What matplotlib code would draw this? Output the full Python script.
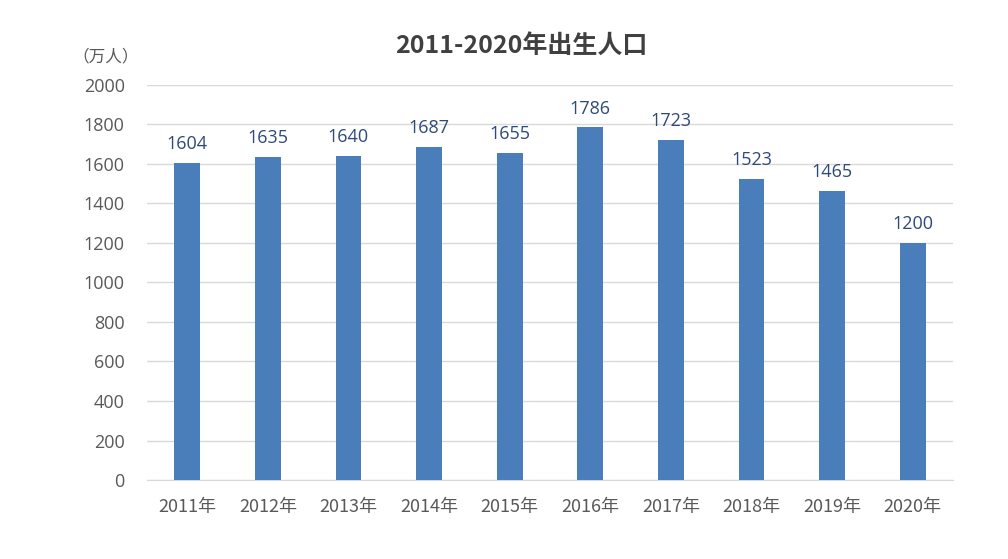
import matplotlib
matplotlib.use('Agg')
import matplotlib.pyplot as plt

plt.rcParams['font.family'] = ['Open Sans', 'Noto Sans CJK SC', 'DejaVu Sans']

# data
years = ['2011年', '2012年', '2013年', '2014年', '2015年',
         '2016年', '2017年', '2018年', '2019年', '2020年']
births = [1604, 1635, 1640, 1687, 1655, 1786, 1723, 1523, 1465, 1200]
y_ticks = list(range(0, 2001, 200))

fig = plt.figure(figsize=(10.08, 5.59), dpi=100)
ax = fig.add_axes([0.1458, 0.1413, 0.7996, 0.7067])

bars = ax.bar(range(len(years)), births, width=0.32, color='#4A7EBB', zorder=3)
for i, v in enumerate(births):
    ax.annotate(str(v), xy=(i, v), xytext=(0, 7), textcoords='offset points',
                ha='center', va='bottom', fontsize=13, color='#2E4A7A', zorder=4)

ax.set_xlim(-0.5, len(years) - 0.5)
ax.set_ylim(0, 2000)
ax.set_yticks(y_ticks)
ax.set_xticks(range(len(years)))
ax.set_xticklabels(years, family=['Noto Sans CJK SC'])
ax.tick_params(axis='both', length=0, labelsize=13, labelcolor='#595959')
ax.tick_params(axis='y', pad=16)
ax.tick_params(axis='x', pad=13)
ax.yaxis.grid(True, color='#D9D9D9', linewidth=1, zorder=0)

for s in ['top', 'right', 'left']:
    ax.spines[s].set_visible(False)
ax.spines['bottom'].set_color('#D9D9D9')

fig.text(0.517, 0.918, '2011-2020年出生人口', ha='center', va='center',
         fontsize=18, fontweight='bold', color='#404040',
         family=['Noto Sans CJK SC'])
fig.text(0.105, 0.898, '（万人）', ha='center', va='center', fontsize=12,
         color='#595959', family=['Noto Sans CJK SC'])

fig.savefig('out.png', dpi=100)
